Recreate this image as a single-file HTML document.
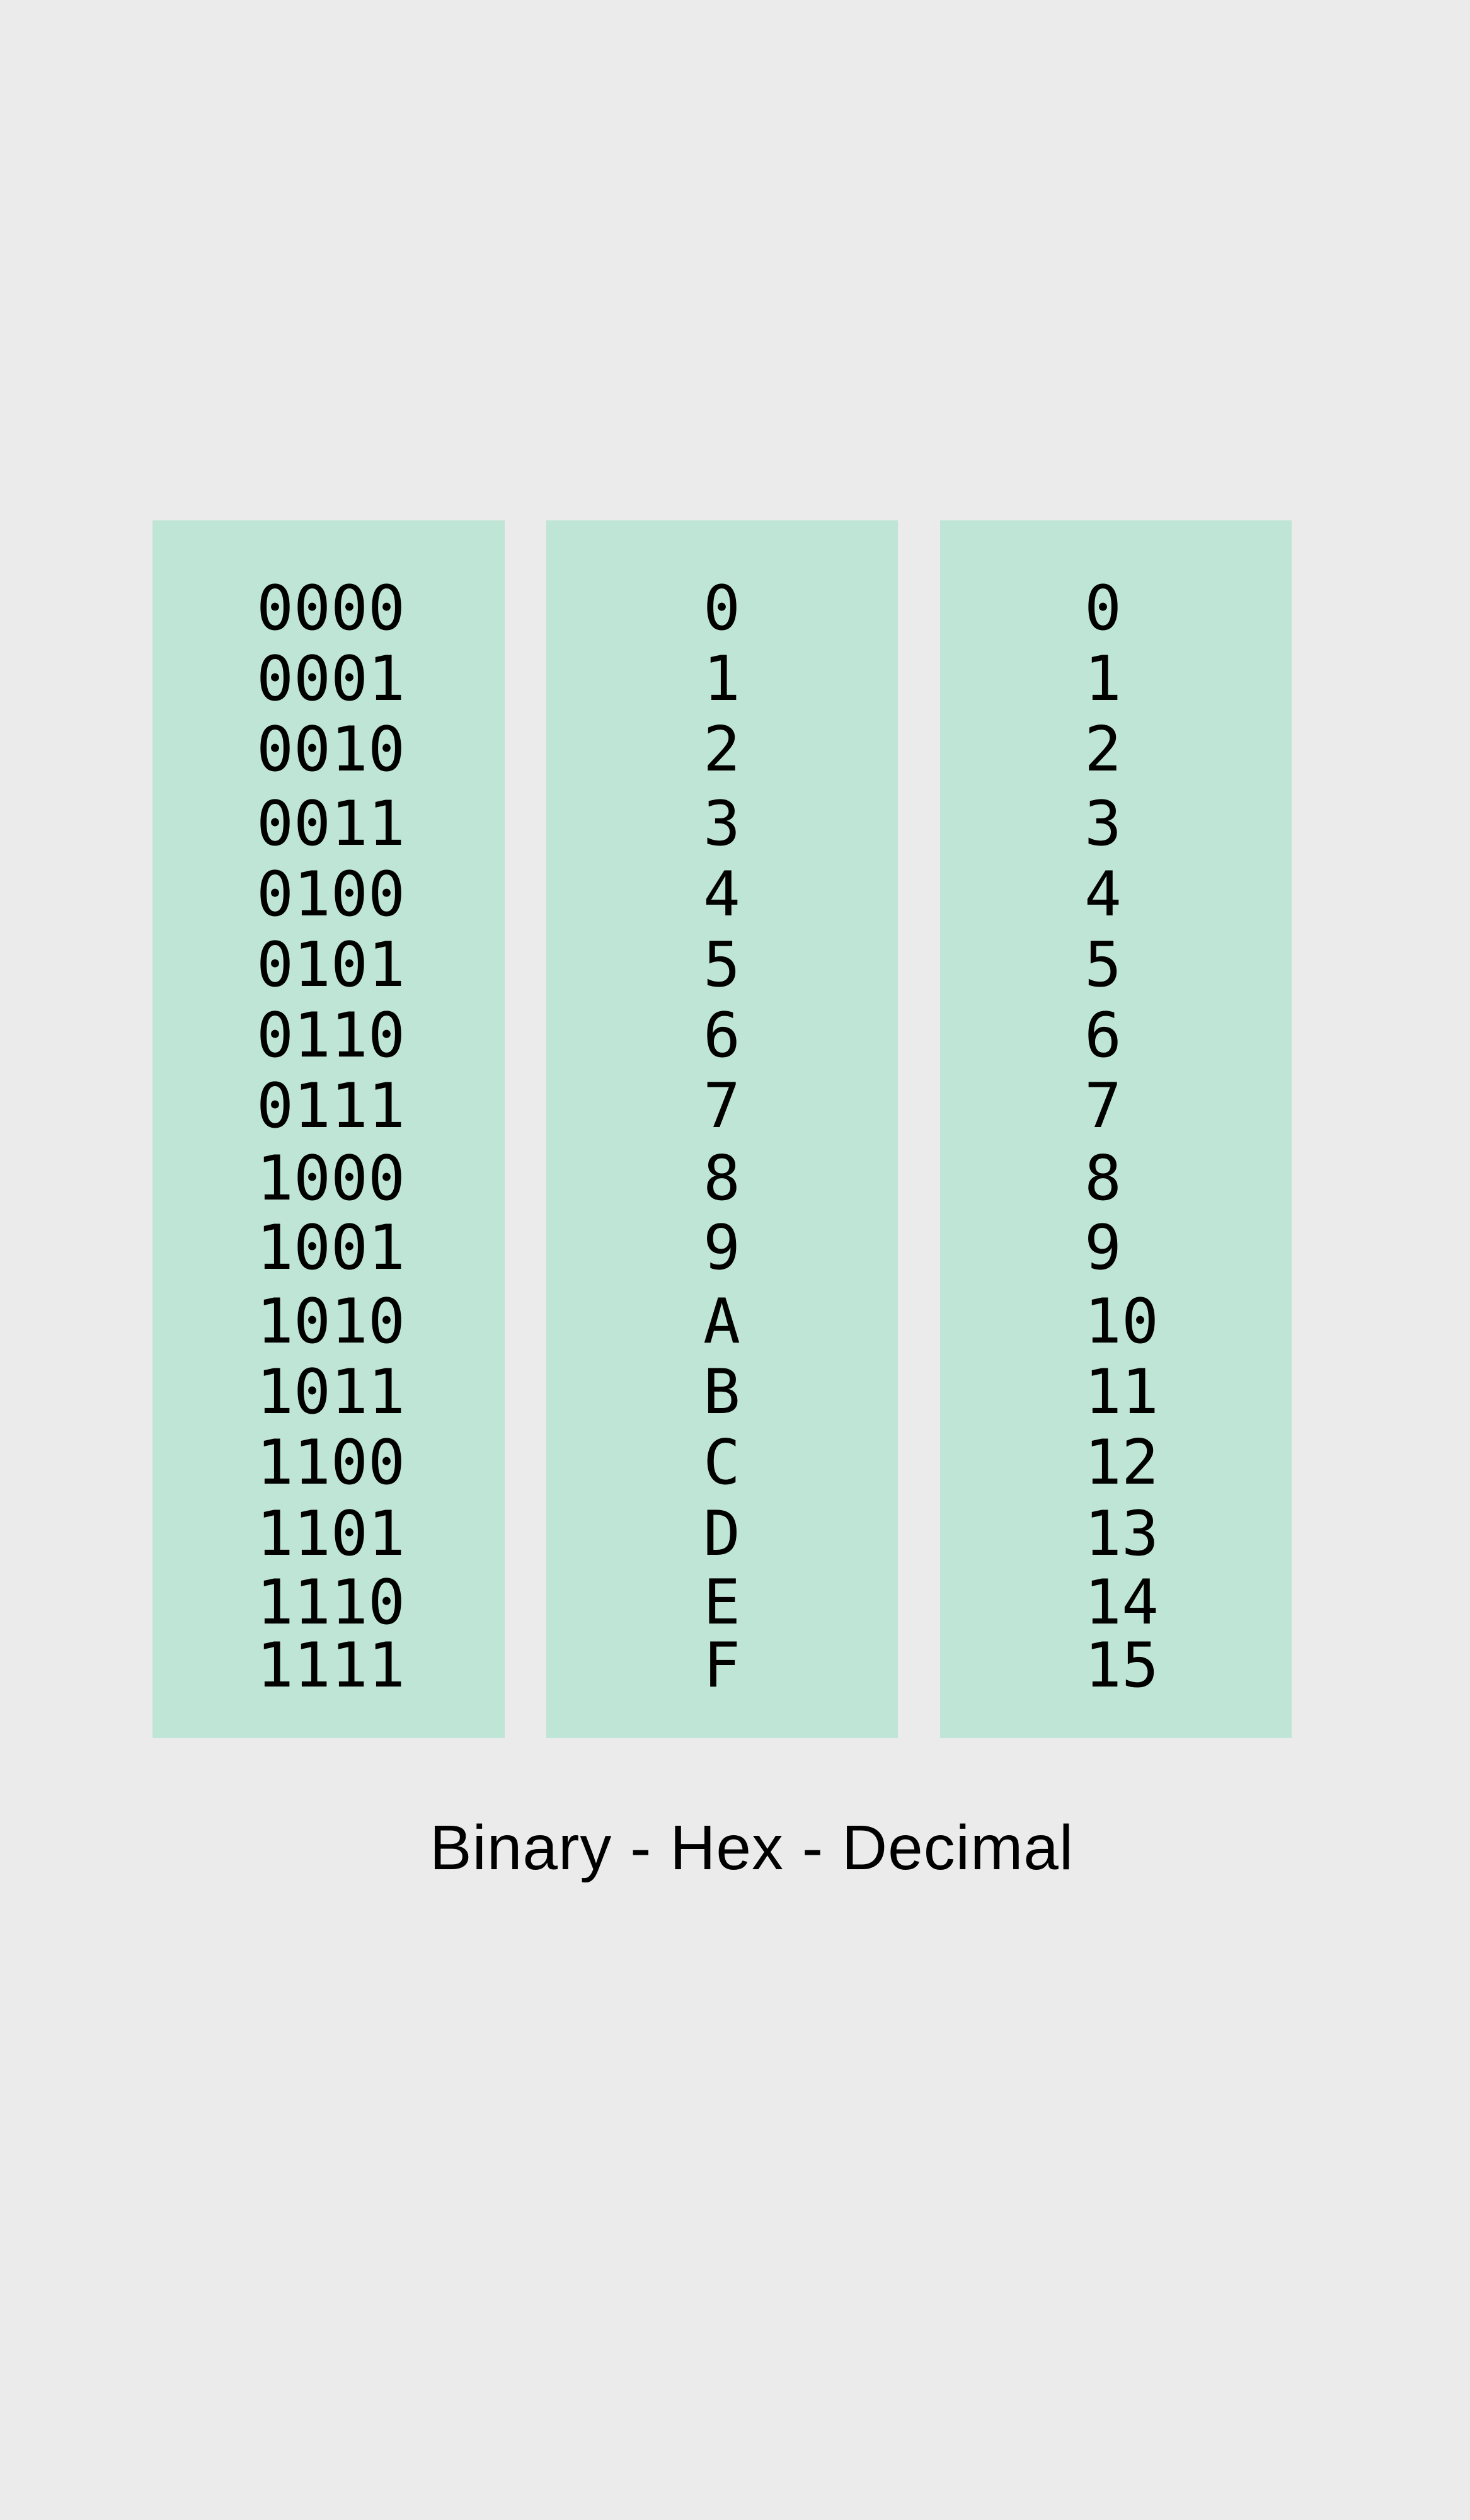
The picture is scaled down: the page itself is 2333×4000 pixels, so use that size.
<!DOCTYPE html>
<html><head><meta charset="utf-8"><style>
html,body{margin:0;padding:0}
body{width:2333px;height:4000px;background:#ebebeb;position:relative;overflow:hidden}
.box{position:absolute;top:826px;height:1933px;background:#bfe5d6}
.r{position:absolute;font-family:"DejaVu Sans Mono","Liberation Mono",monospace;font-size:98px;line-height:100px;height:100px;color:#000;white-space:pre}
.cap{position:absolute;left:0;width:2386px;text-align:center;top:2883px;font-family:"Liberation Sans",sans-serif;font-size:100px;line-height:100px;font-weight:300;letter-spacing:1px;color:#000}
</style></head><body>
<div class="box" style="left:242px;width:559px"></div>
<div class="box" style="left:867px;width:558px"></div>
<div class="box" style="left:1492px;width:558px"></div>
<div id="rows"></div>
<div class="cap">Binary - Hex - Decimal</div>
<script>
var ys=[964,1076,1188,1306,1418,1530,1642,1754,1869,1979,2096,2208,2320,2433,2542,2642];
var hex="0123456789ABCDEF";var h="";
for(var i=0;i<16;i++){var t=ys[i]-48;
var b=i.toString(2);while(b.length<4)b="0"+b;
h+='<div class="r" style="left:407px;top:'+t+'px">'+b+'</div>';
h+='<div class="r" style="left:1116px;top:'+t+'px">'+hex[i]+'</div>';
h+='<div class="r" style="left:1721px;top:'+t+'px">'+i+'</div>';}
document.getElementById("rows").innerHTML=h;
</script>
</body></html>
